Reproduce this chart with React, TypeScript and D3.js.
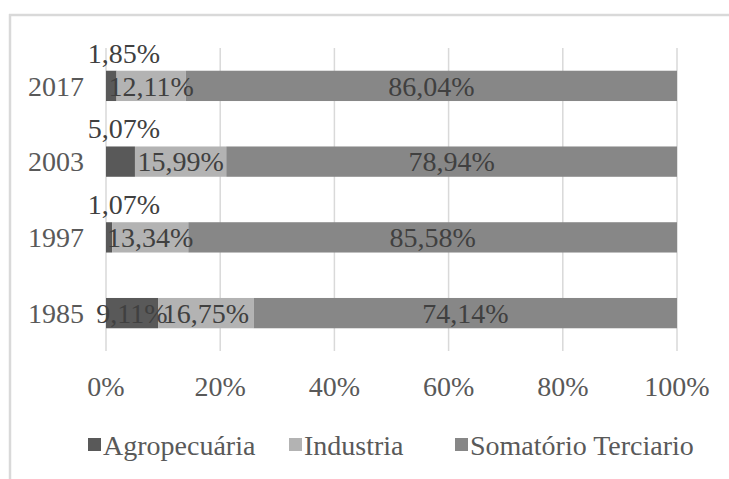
import React from "react";
import * as d3 from "d3";

const years = ["2017", "2003", "1997", "1985"];
const agro = [1.85, 5.07, 1.07, 9.11];
const industria = [12.11, 15.99, 13.34, 16.75];
const terciario = [86.04, 78.94, 85.58, 74.14];
const seriesNames = ["Agropecuária", "Industria", "Somatório Terciario"];
const seriesColors = ["#595959", "#b3b3b3", "#878787"];
const ticks = [0, 0.2, 0.4, 0.6, 0.8, 1];

const W = 729;
const H = 479;
const FONT = "Liberation Serif, Tinos, DejaVu Serif, serif";

function fmt(v: number) {
  return v.toFixed(2).replace(".", ",") + "%";
}

export default function App() {
  const x = d3.scaleLinear().domain([0, 1]).range([106, 677]);
  const y = d3.scaleBand<string>().domain(years).range([48, 351]).paddingInner(0.6).paddingOuter(0.3);
  const rows = years.map((yr, i) => ({ year: yr, agro: agro[i], industria: industria[i], terciario: terciario[i] }));
  const stack = d3.stack<any>().keys(["agro", "industria", "terciario"]).offset(d3.stackOffsetExpand);
  const layers = stack(rows);
  const bw = y.bandwidth();
  const legendX = [88, 289, 455];
  const ts = { fontFamily: FONT, fontSize: "28px" } as React.CSSProperties;

  return (
    <svg width={W} height={H} style={{ position: "absolute", left: 0, top: 0, background: "#fff" }}>
      <rect x={0} y={0} width={W} height={H} fill="#fff" />
      {/* frame */}
      <line x1={9} x2={W} y1={15} y2={15} stroke="#d9d9d9" strokeWidth={2.5} />
      <line x1={10} x2={10} y1={14} y2={H} stroke="#d9d9d9" strokeWidth={2.5} />
      {/* gridlines */}
      {ticks.map((t) => (
        <line key={t} x1={x(t)} x2={x(t)} y1={48} y2={351} stroke="#d9d9d9" strokeWidth={1.5} />
      ))}
      {/* bars */}
      {layers.map((layer, li) =>
        layer.map((d, i) => (
          <rect
            key={li + "-" + i}
            x={x(d[0])}
            width={x(d[1]) - x(d[0])}
            y={y(years[i])!}
            height={bw}
            fill={seriesColors[li]}
          />
        ))
      )}
      {/* labels */}
      {layers.map((layer, li) =>
        layer.map((d, i) => {
          const raw = li === 0 ? agro[i] : li === 1 ? industria[i] : terciario[i];
          const segC = (x(d[0]) + x(d[1])) / 2;
          const top = y(years[i])!;
          const inside = li > 0 || raw > 8;
          const lx = inside ? segC : x(0) + 18;
          const ly = inside ? top + bw / 2 : top - 8;
          return (
            <text
              key={"l" + li + "-" + i}
              x={lx}
              y={ly}
              dy={inside ? "0.35em" : 0}
              textAnchor="middle"
              style={ts}
              fill="#404040"
            >
              {fmt(raw)}
            </text>
          );
        })
      )}
      {/* y axis labels */}
      {years.map((yr) => (
        <text key={yr} x={84} y={y(yr)! + bw / 2} dy="0.35em" textAnchor="end" style={ts} fill="#595959">
          {yr}
        </text>
      ))}
      {/* x ticks */}
      {ticks.map((t) => (
        <text key={"t" + t} x={x(t)} y={386} dy="0.35em" textAnchor="middle" style={ts} fill="#595959">
          {Math.round(t * 100) + "%"}
        </text>
      ))}
      {/* legend */}
      {seriesNames.map((n, i) => (
        <g key={n} transform={`translate(${legendX[i]},445)`}>
          <rect x={0} y={-7} width={13} height={13} fill={seriesColors[i]} />
          <text x={15} y={0} dy="0.35em" style={ts} fill="#595959">
            {n}
          </text>
        </g>
      ))}
    </svg>
  );
}
